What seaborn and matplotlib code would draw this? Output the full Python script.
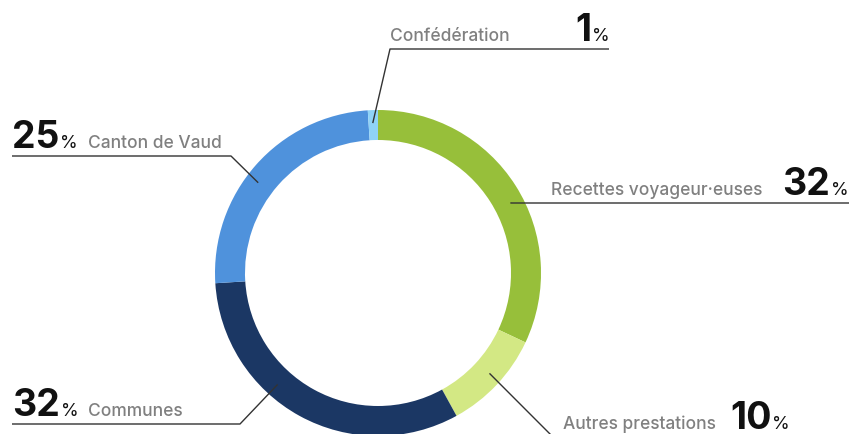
import matplotlib
matplotlib.use("Agg")
import matplotlib.pyplot as plt
import seaborn as sns
import numpy as np

categories = ["Recettes voyageur·euses", "Autres prestations", "Communes", "Canton de Vaud", "Confédération"]
shares = [32, 10, 32, 25, 1]
pct_labels = ["32", "10", "32", "25", "1"]
colors = ["#97bf3a", "#d3e884", "#1b3764", "#4f92dc", "#8fd3f7"]

sns.set_theme(style="white")
plt.rcParams['font.family'] = ['Inter', 'DejaVu Sans']

W, H = 851, 435
fig = plt.figure(figsize=(W / 100, H / 100), dpi=100)
ax = fig.add_axes([0, 0, 1, 1])


def Y(y):
    return H - y


cx, cy, R, ring = 378, 274, 163, 30
ax.pie(shares, colors=sns.color_palette(colors), startangle=90, counterclock=False,
       radius=R, center=(cx, Y(cy)), wedgeprops=dict(width=ring, linewidth=0), frame=False)
ax.set_xlim(0, W)
ax.set_ylim(0, H)
ax.set_aspect('equal')
ax.axis('off')

# layout (pixel coordinates, y downward)
anchor_angles = [28, -42, -132, 143, 92]
anchor_r = 150
elbows = [(511, 204), (555, 440), (240, 425), (231, 157), (390, 50)]
ends = [(849, 204), (851, 440), (12, 425), (12, 157), (609, 50)]
# text: (mode, x, baseline, label x)
text_pos = [("right", 849, 195, 762), ("left", 730, 429, 563), ("left", 12, 416, 88),
            ("left", 12, 148, 88), ("right", 610, 41, 390)]

line_color = "#333333"
label_color = "#808080"
num_color = "#111111"
NUM_FS, PCT_FS, LAB_FS = 27, 13, 12.5

for i, cat in enumerate(categories):
    a = np.deg2rad(anchor_angles[i])
    ax_ = cx + anchor_r * np.cos(a)
    ay_ = cy - anchor_r * np.sin(a)
    ex, ey = elbows[i]
    fx, fy = ends[i]
    ax.plot([ax_, ex, fx], [Y(ay_), Y(ey), Y(fy)], color=line_color, lw=1.0,
            solid_capstyle='butt', zorder=3)

    mode, nx, base, lx = text_pos[i]
    if mode == "left":
        num = ax.text(nx, Y(base), pct_labels[i], fontsize=NUM_FS, fontweight='bold',
                      color=num_color, ha='left', va='baseline')
        ax.annotate("%", xy=(1, Y(base)), xycoords=(num, 'data'), xytext=(1, 0),
                    textcoords='offset pixels', fontsize=PCT_FS, color=num_color,
                    ha='left', va='baseline')
        ax.text(lx, Y(base), cat, fontsize=LAB_FS, color=label_color, ha='left',
                va='baseline', fontweight='medium')
    else:
        pct = ax.text(nx, Y(base), "%", fontsize=PCT_FS, color=num_color, ha='right',
                      va='baseline')
        ax.annotate(pct_labels[i], xy=(0, Y(base)), xycoords=(pct, 'data'), xytext=(-1, 0),
                    textcoords='offset pixels', fontsize=NUM_FS, fontweight='bold',
                    color=num_color, ha='right', va='baseline')
        ha = 'left' if i == 4 else 'right'
        ax.text(lx, Y(base), cat, fontsize=LAB_FS, color=label_color, ha=ha,
                va='baseline', fontweight='medium')

fig.savefig("out.png", dpi=100)
